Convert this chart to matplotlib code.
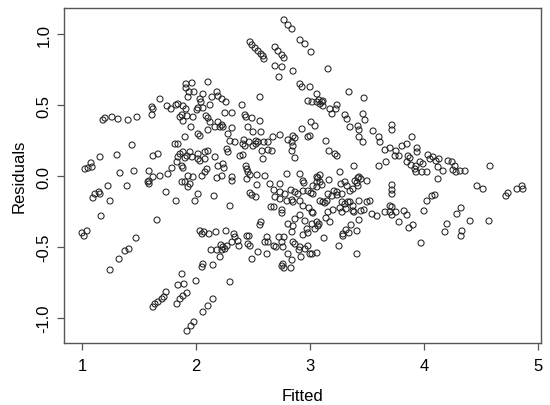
import matplotlib
matplotlib.use('Agg')
import matplotlib.pyplot as plt

plt.rcParams['font.family'] = ['Liberation Sans', 'DejaVu Sans']

# fitted values and residuals
fitted = [
    1.912, 1.912, 1.930, 1.684, 1.614, 1.623, 1.614, 1.746, 1.781, 1.825,
    1.842, 1.886, 1.912, 1.877, 1.860, 1.886, 1.921, 1.184, 1.202, 1.263,
    1.316, 1.404, 1.482, 1.439, 1.816, 1.842, 1.158, 1.307, 1.623, 1.667,
    1.860, 1.842, 1.886, 1.921, 1.026, 1.053, 1.088, 1.079, 1.333, 1.456,
    1.588, 1.623, 1.684, 1.754, 1.789, 1.833, 1.877, 1.886, 1.588, 1.579,
    1.588, 1.228, 1.395, 1.114, 1.149, 1.158, 1.096, 1.246, 1.737, 1.825,
    1.877, 1.904, 1.930, 1.167, 1.658, 1.000, 1.044, 1.018, 1.474, 1.412,
    1.377, 1.325, 1.246, 1.877, 1.842, 1.895, 1.623, 1.640, 1.667, 1.702,
    1.737, 1.719, 1.833, 1.860, 1.886, 1.921, 1.921,
    # 2 - 3
    2.772, 2.807, 2.842, 2.474, 2.491, 2.518, 2.544, 2.570, 2.588, 2.596,
    2.693, 2.719, 2.754, 2.772, 2.912, 2.956, 3.009, 2.693, 2.754, 2.728,
    2.851, 2.912, 2.930, 3.000, 2.982, 3.018, 1.965, 2.105, 1.939, 1.982,
    2.061, 2.184, 2.193, 2.228, 2.263, 2.561, 2.035, 2.140, 2.044, 2.123,
    2.404, 2.018, 2.009, 2.061, 1.974, 2.088, 2.105, 2.254, 2.316, 2.430,
    2.439, 2.491, 2.561, 2.123, 2.193, 2.228, 2.167, 2.211, 2.237, 1.956,
    2.105, 2.316, 2.456, 2.500, 2.018, 2.035, 2.281, 2.570, 1.904, 2.298,
    2.342, 2.421, 2.465, 2.526, 2.544, 2.596, 2.632, 2.412, 2.430, 2.500,
    2.526, 2.675, 2.737, 2.807, 2.851, 2.868, 2.930, 2.982, 3.009, 2.842,
    2.851, 2.842, 2.868, 1.947, 2.018, 2.079, 2.105, 2.167, 2.272, 2.281,
    2.386, 2.412, 1.904, 1.965, 2.018, 2.035, 2.079, 2.579, 2.632, 2.667,
    2.588, 2.193, 2.237, 2.246, 2.096, 2.079, 2.439, 2.447, 2.456, 2.474,
    1.930, 1.974, 2.228, 2.316, 2.535, 2.605, 2.798, 2.912,
    2.053, 2.184, 2.316, 2.447, 2.939, 2.947, 3.026, 1.947, 2.018, 2.158,
    1.991, 2.535, 2.649, 2.737, 2.684, 2.737, 2.781, 2.833, 2.868, 2.895,
    2.939, 2.982, 3.009, 2.474, 2.491, 2.526, 2.693, 2.737, 2.798, 2.842,
    2.851, 2.912, 2.298, 2.658, 2.684, 2.754, 2.754, 2.939, 2.991, 3.018,
    2.912, 2.868, 2.570, 2.561, 2.956, 3.018, 2.807, 2.851, 2.974, 2.842,
    2.939, 2.982, 2.035, 2.070, 2.053, 2.114, 2.175, 2.263, 2.333, 2.342,
    2.316, 2.368, 2.377, 2.447, 2.465, 2.456, 2.474, 2.219, 2.237, 2.254,
    2.228, 2.272, 2.184, 2.132, 2.623, 2.605, 2.632, 2.684, 2.702, 2.728,
    2.772, 2.754, 2.763, 2.544, 2.623, 2.491, 2.851, 2.868, 2.912, 2.904,
    2.956, 2.982, 2.807, 2.842, 2.921, 3.018, 2.211, 2.149, 2.061, 2.053,
    2.763, 2.754, 2.772, 2.833, 2.000, 2.298, 2.149, 2.105, 2.061, 1.982,
    1.956,
    # 3 - 4
    3.158, 3.061, 3.342, 3.474, 3.061, 3.079, 3.105, 3.114, 3.114, 3.088,
    3.175, 3.193, 3.228, 3.237, 3.307, 3.325, 3.351, 3.465, 3.482, 3.044,
    3.000, 3.421, 3.430, 3.553, 3.719, 3.719, 3.430, 3.465, 3.140, 3.167,
    3.219, 3.237, 3.605, 3.614, 3.658, 3.702, 3.754, 3.807, 3.851, 3.895,
    3.781, 3.746, 3.667, 3.605, 3.939, 3.939, 3.860, 3.877, 3.851, 3.886,
    3.930, 3.965, 3.991, 4.035, 4.053, 4.079, 4.105, 3.921, 3.930, 3.982,
    4.026, 3.386, 3.263, 3.088, 3.061, 3.430,
    3.070, 3.061, 3.088, 3.105, 3.061, 3.167, 3.272, 3.307, 3.325, 3.395,
    3.412, 3.421, 3.447, 3.500, 3.421, 3.377, 3.351, 3.237, 3.211, 3.237,
    3.281, 3.193, 3.158, 3.026, 3.088, 3.114, 3.149, 3.132, 3.281, 3.307,
    3.333, 3.351, 3.377, 3.430, 3.500, 3.526, 3.263, 3.281, 3.316, 3.377,
    3.386, 3.447, 3.474, 3.158, 3.202, 3.026, 3.719, 3.719, 3.719, 3.658,
    3.702, 3.719, 3.702, 3.719, 3.754, 3.544, 3.588, 3.825, 3.851, 3.781,
    3.904, 3.868, 4.026, 4.070, 4.096, 4.000, 4.123, 3.140, 3.175, 3.061,
    3.079, 3.070, 3.044, 3.430, 3.360, 3.316, 3.289, 3.289, 3.342, 3.412,
    3.123, 3.254, 3.061, 3.000, 3.412, 3.974,
    # 4 - 5
    4.132, 4.123, 4.167, 4.211, 4.246, 4.272, 4.254, 4.281, 4.316, 4.360,
    4.579, 4.465, 4.518, 4.719, 4.737, 4.816, 4.860, 4.868, 4.325, 4.289,
    4.202, 4.184, 4.404, 4.570, 4.333, 4.325,
]

residuals = [
    0.648, 0.620, 0.556, 0.542, 0.486, 0.472, 0.430, 0.493, 0.472, 0.500,
    0.507, 0.493, 0.472, 0.430, 0.415, 0.387, 0.423, 0.394, 0.408, 0.415,
    0.401, 0.394, 0.415, 0.218, 0.225, 0.225, 0.134, 0.148, 0.141, 0.155,
    0.155, 0.134, 0.169, 0.141, 0.049, 0.056, 0.063, 0.092, 0.021, 0.035,
    0.035, -0.007, 0.000, 0.014, 0.056, 0.099, 0.070, 0.056, -0.056, -0.042,
    -0.035, -0.070, -0.070, -0.127, -0.113, -0.127, -0.155, -0.176, -0.113, -0.176,
    -0.042, -0.042, -0.077, -0.282, -0.310, -0.401, -0.387, -0.423, -0.437, -0.514,
    -0.528, -0.585, -0.662, -0.690, -0.768, -0.761, -0.923, -0.901, -0.887, -0.866,
    -0.817, -0.852, -0.901, -0.866, -0.845, -0.824, -1.092,
    # 2 - 3
    1.099, 1.063, 1.035, 0.944, 0.923, 0.901, 0.880, 0.859, 0.845, 0.824,
    0.908, 0.880, 0.852, 0.831, 0.958, 0.930, 0.873, 0.775, 0.768, 0.697,
    0.739, 0.648, 0.627, 0.627, 0.528, 0.521, 0.655, 0.662, 0.592, 0.592,
    0.577, 0.592, 0.563, 0.542, 0.521, 0.556, 0.542, 0.556, 0.521, 0.500,
    0.500, 0.479, 0.465, 0.479, 0.415, 0.423, 0.408, 0.444, 0.444, 0.430,
    0.415, 0.408, 0.387, 0.380, 0.380, 0.359, 0.345, 0.345, 0.345, 0.345,
    0.324, 0.338, 0.345, 0.310, 0.296, 0.282, 0.296, 0.310, 0.275, 0.246,
    0.239, 0.254, 0.239, 0.246, 0.239, 0.239, 0.239, 0.225, 0.211, 0.211,
    0.225, 0.275, 0.289, 0.254, 0.282, 0.268, 0.331, 0.275, 0.380, 0.239,
    0.211, 0.176, 0.127, 0.169, 0.155, 0.169, 0.176, 0.134, 0.190, 0.169,
    0.141, 0.148, 0.127, 0.134, 0.120, 0.106, 0.120, 0.176, 0.183, 0.176,
    0.120, 0.070, 0.085, 0.056, 0.049, 0.028, 0.070, 0.049, 0.028, 0.007,
    0.000, -0.007, 0.000, -0.007, 0.007, 0.000, 0.014, 0.014,
    0.000, -0.014, -0.035, -0.021, -0.035, -0.049, -0.070, -0.056, -0.127, -0.141,
    -0.176, -0.063, -0.056, -0.056, -0.099, -0.113, -0.127, -0.099, -0.113, -0.127,
    -0.106, -0.106, -0.120, -0.120, -0.134, -0.148, -0.148, -0.162, -0.176, -0.169,
    -0.183, -0.176, -0.211, -0.218, -0.218, -0.239, -0.261, -0.211, -0.225, -0.254,
    -0.275, -0.303, -0.324, -0.345, -0.317, -0.338, -0.338, -0.352, -0.373, -0.394,
    -0.415, -0.401, -0.387, -0.394, -0.408, -0.408, -0.394, -0.387, -0.408, -0.430,
    -0.465, -0.458, -0.493, -0.423, -0.423, -0.479, -0.493, -0.486, -0.500, -0.514,
    -0.521, -0.493, -0.521, -0.521, -0.430, -0.465, -0.465, -0.493, -0.500, -0.430,
    -0.430, -0.465, -0.500, -0.535, -0.549, -0.585, -0.465, -0.479, -0.500, -0.521,
    -0.514, -0.493, -0.549, -0.592, -0.570, -0.549, -0.570, -0.627, -0.620, -0.641,
    -0.620, -0.634, -0.648, -0.648, -0.739, -0.746, -0.866, -0.915, -0.958, -1.028,
    -1.056,
    # 3 - 4
    0.754, 0.577, 0.592, 0.549, 0.521, 0.535, 0.521, 0.528, 0.493, 0.507,
    0.472, 0.437, 0.472, 0.500, 0.430, 0.401, 0.345, 0.437, 0.394, 0.352,
    0.282, 0.352, 0.324, 0.317, 0.359, 0.324, 0.275, 0.239, 0.246, 0.176,
    0.155, 0.141, 0.275, 0.239, 0.183, 0.197, 0.176, 0.211, 0.225, 0.275,
    0.141, 0.141, 0.099, 0.070, 0.197, 0.169, 0.141, 0.127, 0.099, 0.077,
    0.070, 0.099, 0.085, 0.148, 0.120, 0.134, 0.106, 0.049, 0.028, 0.028,
    0.028, 0.070, 0.028, 0.007, -0.007, -0.007,
    -0.014, -0.042, -0.042, -0.063, -0.077, -0.028, -0.056, -0.042, -0.070, -0.035,
    -0.049, -0.014, -0.021, -0.035, -0.070, -0.092, -0.106, -0.113, -0.106, -0.134,
    -0.127, -0.141, -0.127, -0.127, -0.176, -0.183, -0.176, -0.190, -0.183, -0.197,
    -0.183, -0.183, -0.211, -0.176, -0.183, -0.176, -0.225, -0.254, -0.232, -0.246,
    -0.254, -0.246, -0.239, -0.254, -0.239, -0.261, -0.063, -0.099, -0.127, -0.254,
    -0.211, -0.218, -0.254, -0.275, -0.254, -0.268, -0.282, -0.246, -0.275, -0.324,
    -0.345, -0.366, -0.176, -0.141, -0.134, -0.246, -0.021, -0.296, -0.324, -0.324,
    -0.338, -0.352, -0.373, -0.310, -0.345, -0.380, -0.408, -0.423, -0.401, -0.387,
    -0.437, -0.493, -0.542, -0.549, -0.549, -0.472,
    # 4 - 5
    0.120, 0.063, 0.035, 0.106, 0.099, 0.070, 0.042, 0.028, 0.035, 0.035,
    0.070, -0.070, -0.092, -0.141, -0.120, -0.092, -0.070, -0.092, -0.225, -0.268,
    -0.338, -0.394, -0.317, -0.317, -0.387, -0.423,
]

x_ticks = [1, 2, 3, 4, 5]
y_ticks = [-1.0, -0.5, 0.0, 0.5, 1.0]

fig = plt.figure(figsize=(5.5, 4.06), dpi=100)
ax = fig.add_axes([0.1164, 0.1527, 0.8672, 0.8251])

ax.scatter(fitted, residuals, s=19, facecolors='none', edgecolors='#222222', linewidths=0.75)

ax.set_xlim(0.842, 5.026)
ax.set_ylim(-1.176, 1.183)
ax.set_xticks(x_ticks)
ax.set_xticklabels([str(t) for t in x_ticks])
ax.set_yticks(y_ticks)
ax.set_yticklabels(['%.1f' % t for t in y_ticks], rotation=90, va='center')

for sp in ax.spines.values():
    sp.set_color('#555555')
    sp.set_linewidth(1.0)
ax.tick_params(axis='both', colors='#555555', labelcolor='black', labelsize=12,
               length=5, width=0.9)
ax.tick_params(axis='x', pad=5.5)
ax.tick_params(axis='y', pad=4)

ax.set_xlabel('Fitted', fontsize=12, labelpad=11)
ax.set_ylabel('Residuals', fontsize=12, labelpad=7)

fig.savefig('out.png', dpi=100)
